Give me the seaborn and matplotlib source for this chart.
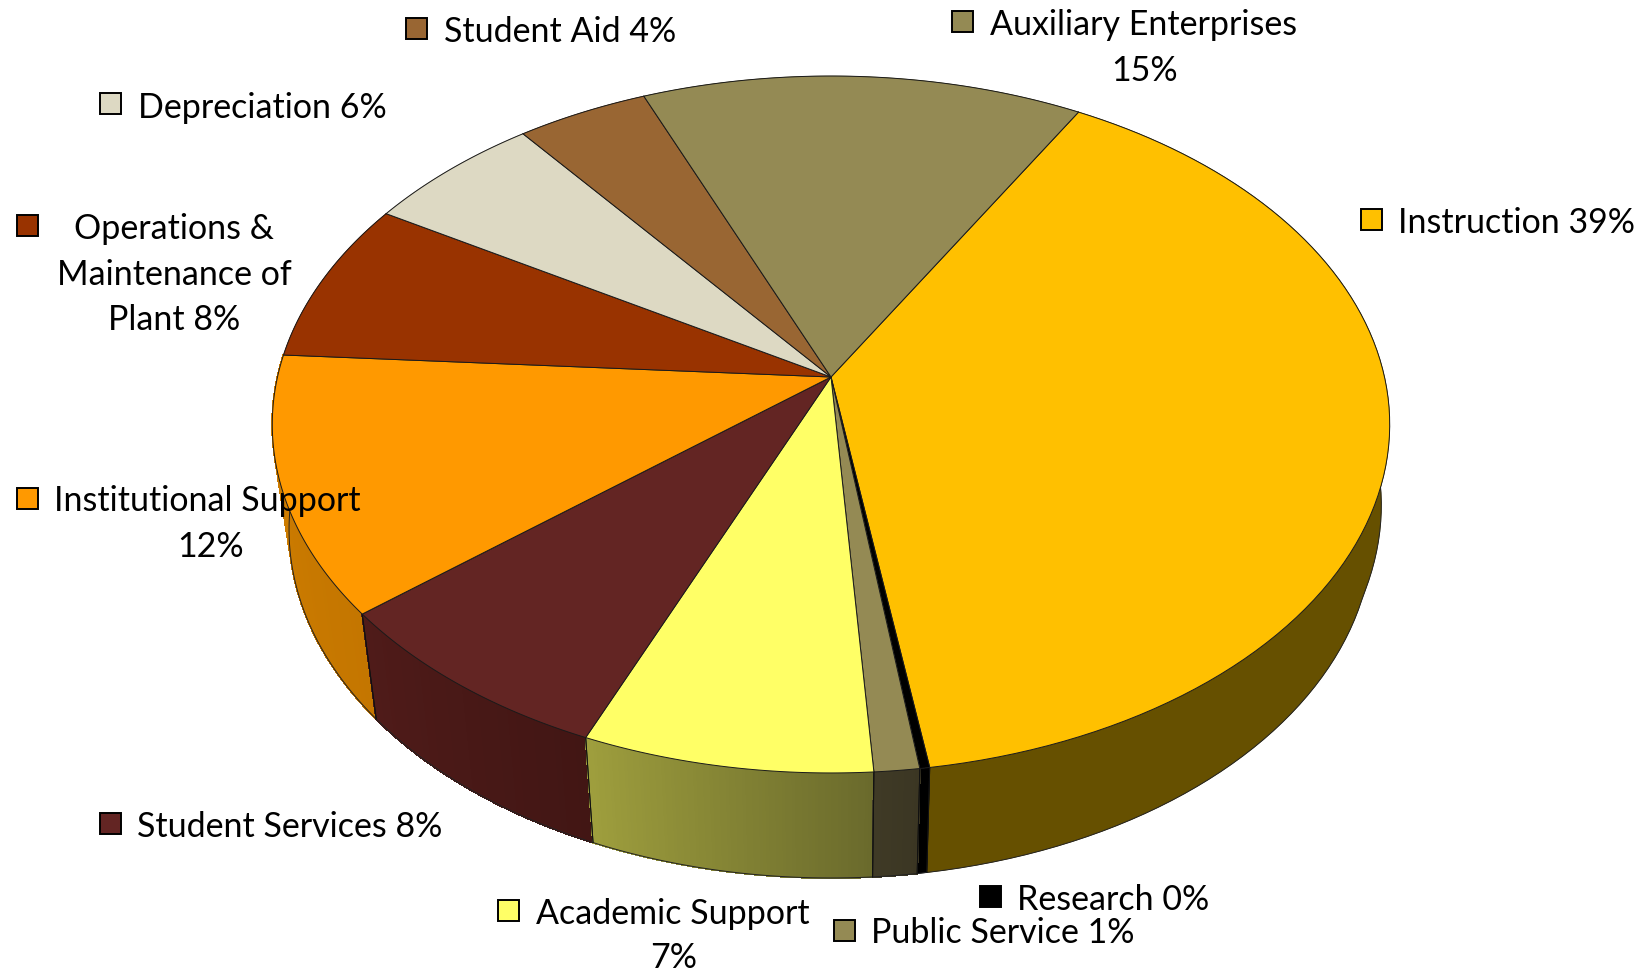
import numpy as np
import matplotlib
matplotlib.use('Agg')
import matplotlib.pyplot as plt
import seaborn as sns

# shares (the printed labels are rounded)
categories = ['Instruction', 'Research', 'Public Service', 'Academic Support', 'Student Services',
              'Institutional Support', 'Operations & Maintenance of Plant', 'Depreciation',
              'Student Aid', 'Auxiliary Enterprises']
shares = [39.2, 0.25, 1.15, 7.4, 7.75, 11.95, 7.5, 5.9, 4.35, 14.55]
tick_text = {
    'Instruction': ['Instruction 39%'],
    'Research': ['Research 0%'],
    'Public Service': ['Public Service 1%'],
    'Academic Support': ['Academic Support', '7%'],
    'Student Services': ['Student Services 8%'],
    'Institutional Support': ['Institutional Support', '12%'],
    'Operations & Maintenance of Plant': ['Operations &', 'Maintenance of', 'Plant 8%'],
    'Depreciation': ['Depreciation 6%'],
    'Student Aid': ['Student Aid 4%'],
    'Auxiliary Enterprises': ['Auxiliary Enterprises', '15%'],
}

top_colors = sns.color_palette(['#FFC000', '#000000', '#948A54', '#FFFF66', '#632523',
                                '#FF9900', '#993300', '#DDD9C3', '#996633', '#948A54'])
# wall shade at the clockwise start and end of each slice
wall_colors = {'Instruction': ['#665000', '#665000'], 'Research': ['#000000', '#000000'],
               'Public Service': ['#3B3623', '#3F3A26'], 'Academic Support': ['#6A6A2C', '#9E9E3D'],
               'Student Services': ['#421614', '#4F1B19'], 'Institutional Support': ['#C47600', '#D07E00'],
               'Operations & Maintenance of Plant': ['#7A2900', '#7A2900'], 'Depreciation': ['#B1AE9C', '#B1AE9C'],
               'Student Aid': ['#7A5229', '#7A5229'], 'Auxiliary Enterprises': ['#766E43', '#766E43']}

# legend key top-left x, y, then x / anchor / baseline per text line
layout = {
    'Instruction': (1361, 209, [(1398, 'left', 233)]),
    'Research': (980, 886, [(1017, 'left', 910)]),
    'Public Service': (834, 920, [(871, 'left', 943)]),
    'Academic Support': (498, 900, [(536, 'left', 924), (674, 'center', 968)]),
    'Student Services': (100, 813, [(137, 'left', 837)]),
    'Institutional Support': (17, 488, [(54, 'left', 511), (211, 'center', 557)]),
    'Operations & Maintenance of Plant': (17, 215, [(174, 'center', 239), (174, 'center', 285), (174, 'center', 330)]),
    'Depreciation': (100, 93, [(138, 'left', 118)]),
    'Student Aid': (406, 18, [(444, 'left', 42)]),
    'Auxiliary Enterprises': (952, 11, [(990, 'left', 35), (1145, 'center', 81)]),
}

sns.set_theme(style='white')
plt.rcParams['font.family'] = ['Lato', 'DejaVu Sans']

fig, ax = plt.subplots(figsize=(16.5, 9.72), dpi=100)
ax.set_position([0, 0, 1, 1])
ax.set_xlim(0, 1650)
ax.set_ylim(972, 0)
ax.axis('off')

# perspective view of the disc, apex sits above the ellipse centre
APEX_X, APEX_Y = 831, 377
RADIUS, PERSP, SQUASH = 553.5, 0.1363, -290.6
DEPTH, SHRINK = 105, 0.97


def project(theta):
    u, v = np.cos(theta), np.sin(theta)
    w = 1 + PERSP * v
    return APEX_X + RADIUS * u / w, (APEX_Y + SQUASH * v) / w


def project_low(theta):
    x, y = project(theta)
    # the lower rim tapers later on the right hand side
    ramp = np.clip((np.sin(theta) + 0.32) / 0.32, 0, 1) * (np.cos(theta) > 0)
    return APEX_X + (SHRINK + 0.022 * ramp) * (x - APEX_X), y + DEPTH


edges = 60 - np.cumsum([0] + shares) * 360 / sum(shares)
spans = [np.radians(np.linspace(a, b, 90)) for a, b in zip(edges[:-1], edges[1:])]

# walls first, far side to near side
order = np.argsort([-np.sin(t[45]) for t in spans])
for i in order:
    theta = spans[i]
    c1, c2 = wall_colors[categories[i]]
    xt, yt = project(theta)
    xb, yb = project_low(theta)
    mid = sns.blend_palette([c1, c2], 3)[1]
    ax.fill(np.r_[xt, xb[::-1]], np.r_[yt, yb[::-1]], color=mid, lw=0.5, zorder=2)
    if c1 != c2:
        strips = sns.blend_palette([c1, c2], len(theta) - 1)
        for k in range(len(theta) - 1):
            ax.fill([xt[k], xt[k + 1] , xb[k + 1], xb[k]], [yt[k], yt[k + 1], yb[k + 1], yb[k]],
                    color=strips[k], lw=0.8, antialiased=False, zorder=2)
    ax.plot(xb, yb, color='#222222', lw=0.7, zorder=3)
    for end in (0, -1):
        ax.plot([xt[end], xb[end]], [yt[end], yb[end]], color='#111111', lw=0.7, zorder=3)

# top face
for i, theta in enumerate(spans):
    x, y = project(theta)
    ax.fill(np.r_[APEX_X, x], np.r_[APEX_Y, y], facecolor=top_colors[i], edgecolor='#1a1a1a', lw=0.7, zorder=4)

for i, name in enumerate(categories):
    kx, ky, lines = layout[name]
    ax.add_patch(plt.Rectangle((kx, ky), 21, 21, facecolor=top_colors[i], edgecolor='black', lw=1.4, zorder=5))
    for line, (tx, anchor, base) in zip(tick_text[name], lines):
        ax.text(tx, base, line, ha=anchor, va='baseline', fontsize=24.5, color='black', zorder=6)

fig.savefig('out.png', dpi=100)
